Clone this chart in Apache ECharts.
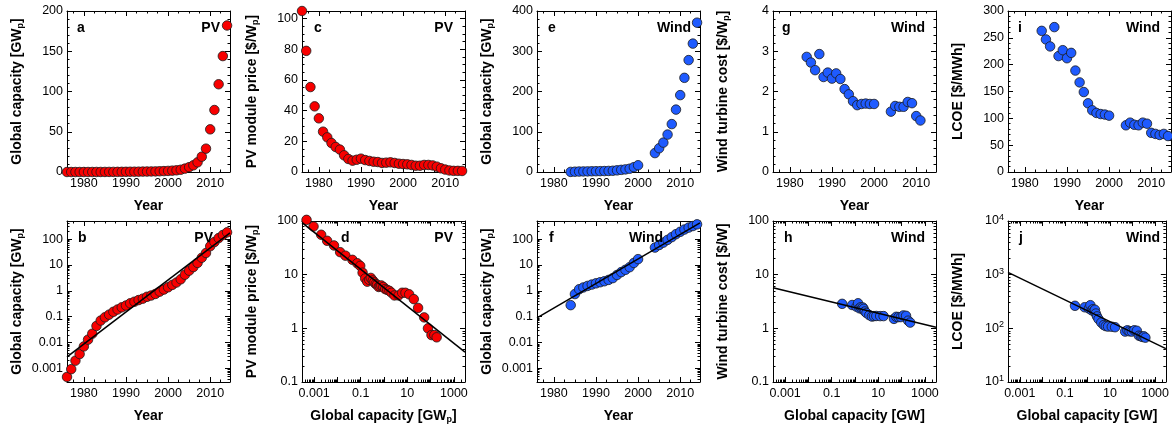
<!DOCTYPE html>
<html><head><meta charset="utf-8">
<script src="https://cdn.jsdelivr.net/npm/echarts@6/dist/echarts.min.js"></script>
<style>html,body{margin:0;padding:0;background:#fff}#c{width:1172px;height:427px}</style>
</head><body><div id="c"></div>
<script>
// ---------------- DATA ----------------
const pvYears = [1976,1977,1978,1979,1980,1981,1982,1983,1984,1985,1986,1987,1988,1989,1990,1991,1992,1993,1994,1995,1996,1997,1998,1999,2000,2001,2002,2003,2004,2005,2006,2007,2008,2009,2010,2011,2012,2013,2014];
const pvCapacity = [0.00047,0.00094,0.0020,0.0036,0.0071,0.013,0.022,0.044,0.071,0.095,0.12,0.155,0.19,0.23,0.27,0.33,0.38,0.44,0.50,0.59,0.66,0.76,0.93,1.12,1.37,1.7,2.1,2.8,4.2,6.0,8.3,12,19,29,53,77,109,144,182];
const pvPrice = [105,79,55.4,42.8,35,26.3,22.6,18.9,16.3,14.6,10.9,8.5,7.4,8.0,8.7,7.8,7.2,6.7,6.5,5.9,6.1,6.3,5.9,5.4,5.2,5.0,4.6,4.1,4.1,4.6,4.6,4.3,3.5,2.4,1.6,1.0,0.75,0.75,0.68];
const windYears = [1984,1985,1986,1987,1988,1989,1990,1991,1992,1993,1994,1995,1996,1997,1998,1999,2000,2004,2005,2006,2007,2008,2009,2010,2011,2012,2013,2014];
const windCapacity = [0.28,0.75,1.15,1.35,1.55,1.75,1.95,2.15,2.35,2.65,3.1,4.1,5.3,6.5,8.2,12,16.8,47,59,73,93,119,155,191,234,278,319,371];
const windTurbineCost = [2.86,2.72,2.53,2.93,2.36,2.47,2.32,2.45,2.31,2.06,1.93,1.76,1.66,1.69,1.70,1.69,1.69,1.50,1.64,1.62,1.62,1.74,1.71,1.39,1.28];
const windLcoe = [263,247,234,270,216,227,212,222,189,167,149,128,115,110,108,107,105,87,92,88,87,92,90,73,71,69,71,67];
// fitted learning / growth lines (end points in data units)
const fitPvCapYear = [[1976, 0.0028], [2014.7, 175]];
const fitPvPriceCap = [[0.0003, 93], [3000, 0.36]];
const fitWindCapYear = [[1976, 0.09], [2014.7, 420]];
const fitWindCostCap = [[0.0003, 5.7], [3000, 1.05]];
const fitWindLcoeCap = [[0.0003, 1100], [3000, 42]];
// tick labels
const yearLabels = [1980, 1990, 2000, 2010];
const logCapLabels = [0.001, 0.1, 10, 1000];

// ---------------- LAYOUT / STYLE ----------------
const FONT = '"Liberation Sans", Arial, Helvetica, sans-serif';
const COLS = [67, 302, 537, 773, 1008];
const ROWS = [11, 221];
const GW = 163, GH = 161;
const RED = '#f80000', BLUE = '#1f5bff';

function stepTicks(lo, hi, step, skip) {
  const out = [];
  for (let v = lo; v <= hi + 1e-9; v += step) {
    const r = +v.toFixed(6);
    if (!skip || Math.abs(r / skip - Math.round(r / skip)) > 1e-6) out.push(r);
  }
  return out;
}
function logTicks(lo, hi, mults) {
  const out = [];
  for (let k = -6; k <= 6; k++) for (const m of mults) {
    const v = +(m * Math.pow(10, k)).toPrecision(6);
    if (v >= lo * 0.9999 && v <= hi * 1.0001) out.push(v);
  }
  return out;
}
const MINOR = [2,3,4,5,6,7,8,9];

function numFmt(v) { return String(+(+v).toPrecision(6)); }
function powFmt(v) { return '10{sup|' + Math.round(Math.log10(v)) + '}'; }

const rich = {
  n: {fontSize: 14, fontWeight: 'bold', fontFamily: FONT, color: '#000', lineHeight: 16},
  s: {fontSize: 9, fontWeight: 'bold', fontFamily: FONT, color: '#000', lineHeight: 9, verticalAlign: 'bottom'}
};
function nm(t) { // "text_sub_rest"
  const p = t.split('_');
  if (p.length === 1) return '{n|' + t + '}';
  return '{n|' + p[0] + '}{s|' + p[1] + '}{n|' + p[2] + '}';
}

const yearAxis = {type: 'value', min: 1976, max: 2014.7, labels: yearLabels, major: yearLabels,
  minor: stepTicks(1977.5, 2014, 2.5, 10), name: 'Year'};
const capLogAxis = (name) => ({type: 'log', min: 0.0003, max: 3000, labels: logCapLabels,
  major: logTicks(0.0003, 3000, [1]), minor: logTicks(0.0003, 3000, MINOR), name: name});

function buildAxes(gi, dim, o, gap) {
  const isX = dim === 'x';
  const sides = isX ? ['bottom', 'top'] : ['left', 'right'];
  const res = [];
  sides.forEach((pos, si) => {
    const common = {gridIndex: gi, type: o.type, min: o.min, max: o.max, position: pos,
      splitLine: {show: false}, minorTick: {show: false}, minorSplitLine: {show: false},
      axisPointer: {show: false}, silent: true};
    if (o.type === 'log') common.logBase = 10;
    res.push(Object.assign({}, common, {
      name: si === 0 ? o.name : '',
      nameLocation: 'middle', nameGap: gap, nameRotate: isX ? 0 : 90, nameMoveOverlap: false,
      nameTextStyle: {fontSize: 14, fontWeight: 'bold', fontFamily: FONT, color: '#000', rich: rich},
      axisLine: {show: true, onZero: false, lineStyle: {color: '#000', width: 1}},
      axisTick: {show: true, inside: true, length: 5, customValues: o.major, lineStyle: {color: '#000', width: 1}},
      axisLabel: {show: si === 0, customValues: o.labels, margin: isX ? 5 : 4,
        fontSize: 12.5, fontFamily: FONT, color: '#000',
        formatter: o.pow ? powFmt : numFmt, hideOverlap: false,
        rich: {sup: {fontSize: 9, fontFamily: FONT, color: '#000', verticalAlign: 'top', lineHeight: 16}}}
    }));
    res.push(Object.assign({}, common, {
      axisLine: {show: false, onZero: false},
      axisTick: {show: true, inside: true, length: 2.5, customValues: o.minor, lineStyle: {color: '#000', width: 1}},
      axisLabel: {show: false}
    }));
  });
  return res;
}

const panels = [
  {col: 0, row: 0, letter: 'a', letterLeft: 77, tag: 'PV', tagRight: 220, x: yearAxis,
   y: {type: 'value', min: 0, max: 200, labels: [0,50,100,150,200], major: [0,50,100,150,200], minor: stepTicks(0,200,10,50), name: 'Global capacity [GW_p_]'},
   pts: pvYears.map((v, i) => [v, pvCapacity[i]]), color: RED},
  {col: 0, row: 1, letter: 'b', letterLeft: 78, tag: 'PV', tagRight: 213, x: yearAxis,
   y: {type: 'log', min: 0.0003, max: 500, labels: logTicks(0.001, 100, [1]), major: logTicks(0.0003, 500, [1]), minor: logTicks(0.0003, 500, MINOR), name: 'Global capacity [GW_p_]'},
   pts: pvYears.map((v, i) => [v, pvCapacity[i]]), color: RED, fit: fitPvCapYear},
  {col: 1, row: 0, letter: 'c', letterLeft: 314, tag: 'PV', tagRight: 453, x: yearAxis,
   y: {type: 'value', min: 0, max: 105, labels: [0,20,40,60,80,100], major: [0,20,40,60,80,100], minor: stepTicks(0,105,5,20), name: 'PV module price [$/W_p_]'},
   pts: pvYears.map((v, i) => [v, pvPrice[i]]), color: RED},
  {col: 1, row: 1, letter: 'd', letterLeft: 341, tag: 'PV', tagRight: 453, x: capLogAxis('Global capacity [GW_p_]'),
   y: {type: 'log', min: 0.1, max: 100, labels: [0.1,1,10,100], major: [0.1,1,10,100], minor: logTicks(0.1, 100, MINOR), name: 'PV module price [$/W_p_]'},
   pts: pvCapacity.map((v, i) => [v, pvPrice[i]]), color: RED, fit: fitPvPriceCap},
  {col: 2, row: 0, letter: 'e', letterLeft: 548, tag: 'Wind', tagRight: 691, x: yearAxis,
   y: {type: 'value', min: 0, max: 400, labels: [0,100,200,300,400], major: [0,100,200,300,400], minor: stepTicks(0,400,20,100), name: 'Global capacity [GW_p_]'},
   pts: windYears.map((v, i) => [v, windCapacity[i]]), color: BLUE},
  {col: 2, row: 1, letter: 'f', letterLeft: 549, tag: 'Wind', tagRight: 663, x: yearAxis,
   y: {type: 'log', min: 0.0003, max: 500, labels: logTicks(0.001, 100, [1]), major: logTicks(0.0003, 500, [1]), minor: logTicks(0.0003, 500, MINOR), name: 'Global capacity [GW_p_]'},
   pts: windYears.map((v, i) => [v, windCapacity[i]]), color: BLUE, fit: fitWindCapYear},
  {col: 3, row: 0, letter: 'g', letterLeft: 782, tag: 'Wind', tagRight: 925, x: yearAxis,
   y: {type: 'value', min: 0, max: 4, labels: [0,1,2,3,4], major: [0,1,2,3,4], minor: stepTicks(0,4,0.2,1), name: 'Wind turbine cost [$/W_p_]'},
   pts: windTurbineCost.map((v, i) => [windYears[i], v]), color: BLUE},
  {col: 3, row: 1, letter: 'h', letterLeft: 784, tag: 'Wind', tagRight: 925, x: capLogAxis('Global capacity [GW]'),
   y: {type: 'log', min: 0.1, max: 100, labels: [0.1,1,10,100], major: [0.1,1,10,100], minor: logTicks(0.1, 100, MINOR), name: 'Wind turbine cost [$/W]'},
   pts: windTurbineCost.map((v, i) => [windCapacity[i], v]), color: BLUE, fit: fitWindCostCap},
  {col: 4, row: 0, letter: 'i', letterLeft: 1018, tag: 'Wind', tagRight: 1160, x: yearAxis,
   y: {type: 'value', min: 0, max: 300, labels: [0,50,100,150,200,250,300], major: [0,50,100,150,200,250,300], minor: stepTicks(0,300,10,50), name: 'LCOE [$/MWh]'},
   pts: windYears.map((v, i) => [v, windLcoe[i]]), color: BLUE},
  {col: 4, row: 1, letter: 'j', letterLeft: 1019, tag: 'Wind', tagRight: 1160, x: capLogAxis('Global capacity [GW]'),
   y: {type: 'log', min: 10, max: 10000, labels: [10,100,1000,10000], major: [10,100,1000,10000], minor: logTicks(10, 10000, MINOR), name: 'LCOE [$/MWh]', pow: true},
   pts: windLcoe.map((v, i) => [windCapacity[i], v]), color: BLUE, fit: fitWindLcoeCap}
];

const option = {animation: false, backgroundColor: '#fff', textStyle: {fontFamily: FONT},
  grid: [], xAxis: [], yAxis: [], series: [], graphic: []};

panels.forEach((p, gi) => {
  const left = COLS[p.col], top = ROWS[p.row];
  option.grid.push({left: left, top: top, width: GW, height: GH, containLabel: false, show: false});
  const xs = Object.assign({}, p.x, {name: nm(p.x.name)});
  const ys = Object.assign({}, p.y, {name: nm(p.y.name)});
  option.xAxis.push(...buildAxes(gi, 'x', xs, 26));
  option.yAxis.push(...buildAxes(gi, 'y', ys, 42));
  const xi = gi * 4, yi = gi * 4;
  option.series.push({type: 'scatter', xAxisIndex: xi, yAxisIndex: yi, data: p.pts, clip: false,
    symbol: 'circle', symbolSize: 9.5, z: 3,
    itemStyle: {color: p.color, borderColor: '#1a1a1a', borderWidth: 0.8, opacity: 1}});
  if (p.fit) option.series.push({type: 'line', xAxisIndex: xi, yAxisIndex: yi, data: p.fit,
    showSymbol: false, symbol: 'none', clip: true, z: 4,
    lineStyle: {color: '#000', width: 1.5}});
  const cy = top + 17;
  option.graphic.push({type: 'text', x: p.letterLeft, y: cy, z: 10, silent: true,
    style: {text: p.letter, font: 'bold 14px ' + FONT, fill: '#000', textAlign: 'left', align: 'left', textVerticalAlign: 'middle', verticalAlign: 'middle'}});
  option.graphic.push({type: 'text', x: p.tagRight, y: cy, z: 10, silent: true,
    style: {text: p.tag, font: 'bold 14px ' + FONT, fill: '#000', textAlign: 'right', align: 'right', textVerticalAlign: 'middle', verticalAlign: 'middle'}});
});

const chart = echarts.init(document.getElementById('c'), null, {renderer: 'canvas'});
chart.setOption(option);
</script></body></html>
